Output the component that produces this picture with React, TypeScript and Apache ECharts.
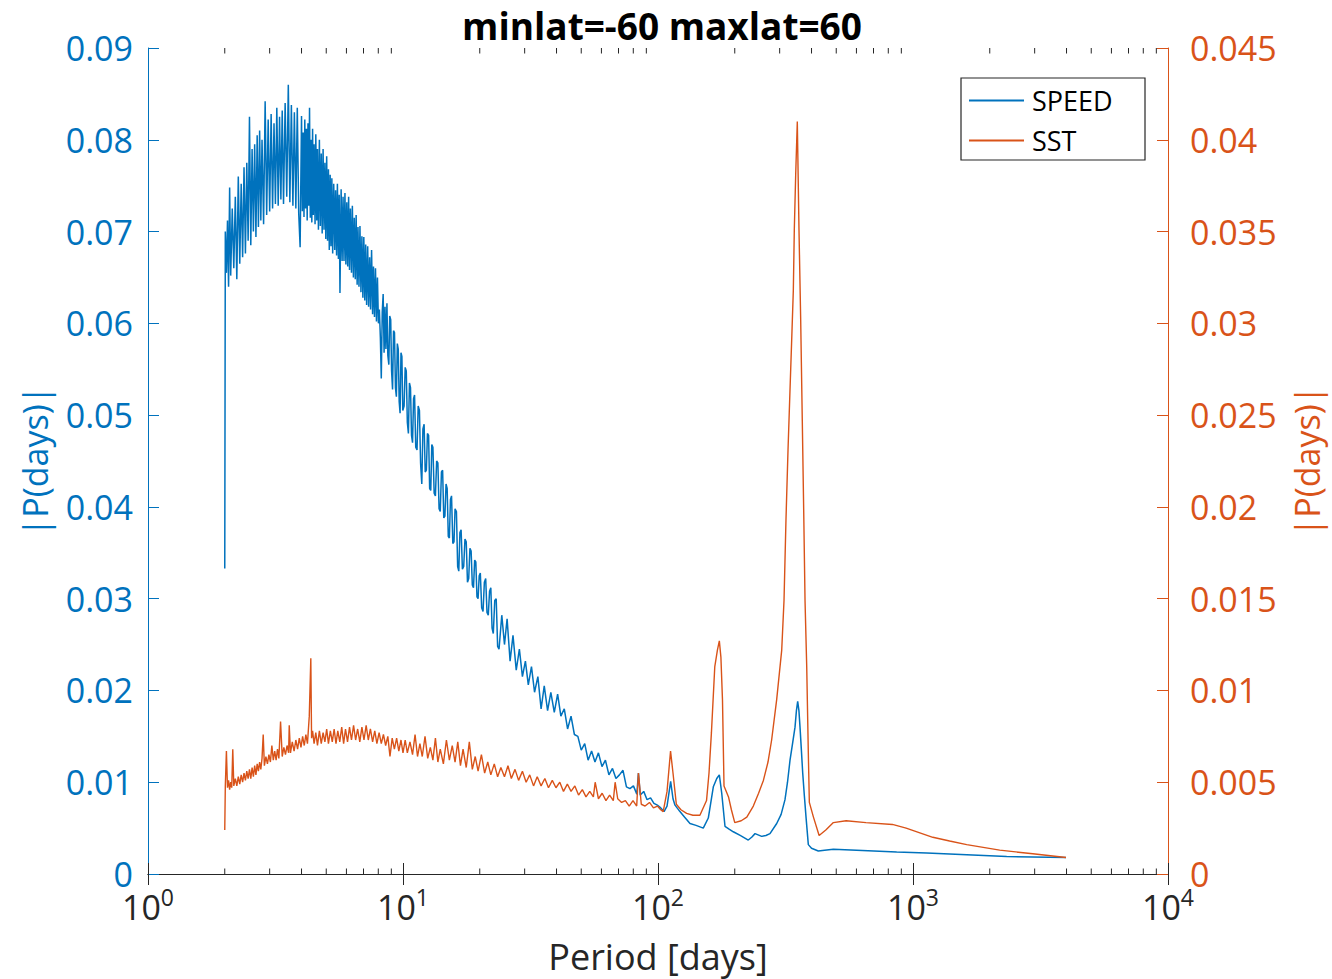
import React, { useEffect, useRef } from "react";
import * as echarts from "echarts";

const TITLE = "minlat=-60 maxlat=60";
const X_NAME = "Period [days]";
const Y_NAME = "|P(days)|";
const SERIES_NAMES = ["SPEED", "SST"];
const X_MIN = 1;
const X_MAX = 10000;
const LEFT_MAX = 0.09;
const LEFT_STEP = 0.01;
const RIGHT_MAX = 0.045;
const RIGHT_STEP = 0.005;
const MINOR_TICKS = [2, 3, 4, 5, 6, 7, 8, 9, 20, 30, 40, 50, 60, 70, 80, 90, 200, 300, 400, 500, 600, 700, 800, 900, 2000, 3000, 4000, 5000, 6000, 7000, 8000, 9000];

// [period (days), |P|]
const SPEED: [number, number][] = [
  [2.0, 0.0333], [2.01, 0.07], [2.03, 0.0655], [2.05, 0.0712], [2.07, 0.064], [2.09, 0.0748], [2.11, 0.0652], [2.14, 0.0725],
  [2.17, 0.066], [2.2, 0.0738], [2.23, 0.0648], [2.26, 0.076], [2.29, 0.0665], [2.32, 0.0752], [2.35, 0.0672], [2.38, 0.077],
  [2.41, 0.0676], [2.44, 0.0775], [2.47, 0.069], [2.5, 0.0825], [2.53, 0.0685], [2.56, 0.079], [2.59, 0.07], [2.62, 0.0795],
  [2.65, 0.0694], [2.68, 0.0805], [2.71, 0.0705], [2.74, 0.081], [2.77, 0.0712], [2.8, 0.08], [2.84, 0.0708], [2.88, 0.0842],
  [2.92, 0.0718], [2.96, 0.0822], [3.0, 0.0722], [3.04, 0.0828], [3.08, 0.0725], [3.12, 0.0818], [3.16, 0.073], [3.2, 0.0835],
  [3.24, 0.0728], [3.28, 0.0825], [3.32, 0.0735], [3.36, 0.0832], [3.4, 0.073], [3.45, 0.084], [3.5, 0.0738], [3.55, 0.086],
  [3.6, 0.0732], [3.65, 0.0838], [3.7, 0.0728], [3.75, 0.083], [3.8, 0.0725], [3.85, 0.0835], [3.9, 0.072], [3.95, 0.0683],
  [4.0, 0.0826], [4.03, 0.0722], [4.06, 0.0808], [4.09, 0.0716], [4.12, 0.0822], [4.15, 0.0725], [4.18, 0.0812], [4.21, 0.0712],
  [4.24, 0.0818], [4.27, 0.0728], [4.3, 0.0835], [4.33, 0.0715], [4.36, 0.08], [4.39, 0.071], [4.42, 0.0812], [4.45, 0.0718],
  [4.48, 0.0795], [4.52, 0.0708], [4.55, 0.0806], [4.59, 0.0712], [4.62, 0.079], [4.66, 0.0702], [4.7, 0.08], [4.74, 0.0706],
  [4.78, 0.0785], [4.82, 0.0698], [4.86, 0.079], [4.9, 0.0702], [4.94, 0.0775], [4.98, 0.0692], [5.02, 0.0782], [5.06, 0.069],
  [5.1, 0.0768], [5.14, 0.068], [5.18, 0.0762], [5.22, 0.0684], [5.26, 0.0758], [5.3, 0.0676], [5.35, 0.0752], [5.4, 0.068],
  [5.44, 0.0745], [5.49, 0.0674], [5.53, 0.0752], [5.58, 0.067], [5.62, 0.074], [5.66, 0.0633], [5.72, 0.0746], [5.77, 0.0668],
  [5.82, 0.0738], [5.87, 0.0668], [5.92, 0.0742], [5.97, 0.0664], [6.02, 0.0732], [6.07, 0.0662], [6.12, 0.0738], [6.17, 0.0658],
  [6.22, 0.0725], [6.28, 0.0655], [6.33, 0.0728], [6.39, 0.065], [6.44, 0.0715], [6.5, 0.0648], [6.55, 0.0718], [6.61, 0.0642],
  [6.66, 0.0705], [6.72, 0.064], [6.78, 0.0706], [6.84, 0.0634], [6.9, 0.0695], [6.96, 0.0628], [7.02, 0.0694], [7.08, 0.0625],
  [7.14, 0.0686], [7.2, 0.062], [7.27, 0.0684], [7.33, 0.0618], [7.4, 0.0672], [7.46, 0.0615], [7.53, 0.068], [7.6, 0.061],
  [7.66, 0.0662], [7.73, 0.0607], [7.8, 0.066], [7.87, 0.0602], [7.94, 0.065], [8.01, 0.06], [8.08, 0.0615], [8.15, 0.0585],
  [8.22, 0.054], [8.29, 0.0612], [8.36, 0.0632], [8.43, 0.0568], [8.5, 0.0618], [8.57, 0.0572], [8.65, 0.0622], [8.72, 0.0565],
  [8.8, 0.0555], [8.87, 0.0608], [8.95, 0.0604], [9.02, 0.0548], [9.1, 0.0528], [9.18, 0.0592], [9.26, 0.059], [9.34, 0.053],
  [9.42, 0.052], [9.5, 0.0578], [9.58, 0.0572], [9.66, 0.0515], [9.74, 0.0502], [9.82, 0.0568], [9.9, 0.0564], [9.98, 0.0505],
  [10.1, 0.051], [10.2, 0.0552], [10.3, 0.0548], [10.4, 0.0492], [10.5, 0.048], [10.6, 0.0535], [10.7, 0.053], [10.8, 0.0478],
  [10.9, 0.047], [11.0, 0.0518], [11.1, 0.0522], [11.22, 0.0465], [11.35, 0.0462], [11.47, 0.051], [11.6, 0.0505], [11.72, 0.0448],
  [11.85, 0.0425], [11.97, 0.0485], [12.1, 0.049], [12.22, 0.0438], [12.35, 0.044], [12.47, 0.048], [12.6, 0.0478], [12.72, 0.042],
  [12.85, 0.0418], [12.97, 0.0468], [13.1, 0.0465], [13.25, 0.0415], [13.4, 0.0412], [13.55, 0.045], [13.7, 0.0448], [13.85, 0.0398],
  [14.0, 0.0395], [14.15, 0.0438], [14.3, 0.044], [14.45, 0.0388], [14.6, 0.039], [14.75, 0.0425], [14.9, 0.042], [15.05, 0.0368],
  [15.2, 0.0366], [15.35, 0.0408], [15.5, 0.0412], [15.68, 0.036], [15.85, 0.0362], [16.0, 0.0398], [16.2, 0.0395], [16.38, 0.0335],
  [16.55, 0.033], [16.72, 0.0372], [16.9, 0.0375], [17.1, 0.0332], [17.3, 0.0335], [17.5, 0.0365], [17.7, 0.0362], [17.9, 0.0318],
  [18.1, 0.0322], [18.3, 0.0355], [18.5, 0.0352], [18.7, 0.0315], [18.9, 0.0312], [19.1, 0.0342], [19.3, 0.034], [19.5, 0.0302],
  [19.7, 0.03], [19.9, 0.0325], [20.1, 0.0328], [20.35, 0.029], [20.6, 0.0286], [20.85, 0.0318], [21.1, 0.0322], [21.35, 0.0285],
  [21.6, 0.0282], [21.85, 0.0308], [22.1, 0.0312], [22.35, 0.0268], [22.6, 0.0262], [22.9, 0.0298], [23.2, 0.03], [23.5, 0.0248],
  [23.8, 0.0245], [24.4, 0.0282], [25.0, 0.025], [25.6, 0.0278], [26.3, 0.0232], [27.0, 0.026], [27.8, 0.0222], [28.6, 0.0245],
  [29.4, 0.0215], [30.2, 0.0232], [31.0, 0.0206], [31.9, 0.0226], [32.8, 0.0198], [33.8, 0.0215], [34.8, 0.018], [35.8, 0.0205],
  [36.9, 0.0178], [38.0, 0.0198], [39.2, 0.0176], [40.4, 0.0196], [41.6, 0.0172], [42.9, 0.018], [44.2, 0.0158], [45.6, 0.0172],
  [47.0, 0.0152], [48.5, 0.015], [50.0, 0.0135], [51.6, 0.0142], [53.2, 0.0124], [54.9, 0.0134], [56.6, 0.0122], [58.4, 0.0132],
  [60.3, 0.0117], [62.2, 0.0124], [64.2, 0.0108], [66.3, 0.0115], [68.4, 0.0104], [70.6, 0.0108], [72.9, 0.0113], [75.2, 0.0095],
  [77.6, 0.0093], [80.1, 0.0096], [82.6, 0.0087], [83.8, 0.011], [85.2, 0.0086], [87.9, 0.009], [90.6, 0.0081], [93.5, 0.0083],
  [96.4, 0.0077], [99.4, 0.0075], [102.5, 0.0072], [105.6, 0.0068], [108.5, 0.0074], [112.1, 0.0101], [114.5, 0.0082], [116.6, 0.0075],
  [121.9, 0.0068], [127, 0.0062], [133.5, 0.0055], [141, 0.0053], [150.5, 0.005], [157.5, 0.0061], [164.8, 0.0095], [170, 0.0104],
  [174, 0.0108], [177.8, 0.0088], [183.1, 0.0052], [190, 0.0049], [197.4, 0.0046], [210, 0.0042], [226, 0.0037], [233, 0.004],
  [240.2, 0.0044], [255.1, 0.0041], [265, 0.0042], [274.9, 0.0044], [292.1, 0.0055], [304, 0.0065], [314.8, 0.0081], [322, 0.01],
  [329.4, 0.0124], [337, 0.0142], [344.6, 0.016], [349, 0.0178], [353, 0.0188], [357, 0.0178], [360.5, 0.016], [365, 0.0135],
  [369.4, 0.011], [375, 0.0085], [380.6, 0.0062], [388.6, 0.0032], [400, 0.0028], [425.2, 0.0025], [450, 0.0026], [487, 0.0027],
  [601, 0.0026], [863, 0.0024], [1132, 0.0023], [1624, 0.0021], [2330, 0.0019], [3980, 0.0018],
];

const SST: [number, number][] = [
  [2.0, 0.0024], [2.01, 0.0048], [2.03, 0.0067], [2.05, 0.0047], [2.07, 0.0051], [2.09, 0.0046], [2.11, 0.005], [2.13, 0.0047],
  [2.15, 0.0068], [2.17, 0.0048], [2.2, 0.0052], [2.23, 0.0048], [2.26, 0.0053], [2.29, 0.0049], [2.32, 0.0054], [2.35, 0.005],
  [2.38, 0.0055], [2.41, 0.0051], [2.44, 0.0056], [2.47, 0.0052], [2.5, 0.0057], [2.53, 0.0052], [2.56, 0.0058], [2.59, 0.0053],
  [2.62, 0.0059], [2.65, 0.0054], [2.68, 0.006], [2.71, 0.0056], [2.74, 0.0061], [2.77, 0.0057], [2.8, 0.0063], [2.83, 0.0076],
  [2.86, 0.0059], [2.9, 0.0064], [2.94, 0.006], [2.98, 0.0065], [3.02, 0.0061], [3.06, 0.007], [3.1, 0.0062], [3.14, 0.0067],
  [3.18, 0.0062], [3.22, 0.0068], [3.26, 0.0063], [3.31, 0.0083], [3.36, 0.0064], [3.41, 0.0069], [3.46, 0.0065], [3.51, 0.007],
  [3.56, 0.0066], [3.58, 0.0081], [3.62, 0.0066], [3.68, 0.0072], [3.74, 0.0067], [3.8, 0.0073], [3.86, 0.0068], [3.92, 0.0074],
  [3.98, 0.0069], [4.04, 0.0075], [4.1, 0.007], [4.16, 0.0076], [4.22, 0.0071], [4.29, 0.0086], [4.35, 0.01175], [4.38, 0.0074],
  [4.42, 0.0078], [4.48, 0.0071], [4.55, 0.0077], [4.62, 0.007], [4.7, 0.0078], [4.78, 0.0071], [4.86, 0.0077], [4.94, 0.0072],
  [5.02, 0.0079], [5.1, 0.0071], [5.19, 0.0078], [5.28, 0.0072], [5.37, 0.0079], [5.46, 0.0071], [5.55, 0.0078], [5.65, 0.0072],
  [5.75, 0.008], [5.85, 0.0071], [5.95, 0.0079], [6.06, 0.0072], [6.17, 0.008], [6.28, 0.0073], [6.4, 0.0081], [6.52, 0.0073],
  [6.64, 0.0079], [6.77, 0.0072], [6.9, 0.008], [7.03, 0.0073], [7.17, 0.0081], [7.31, 0.0073], [7.45, 0.0079], [7.6, 0.0072],
  [7.75, 0.0078], [7.9, 0.0071], [8.06, 0.0077], [8.22, 0.0071], [8.38, 0.0076], [8.55, 0.007], [8.72, 0.0075], [8.89, 0.0064],
  [9.07, 0.0074], [9.25, 0.0068], [9.44, 0.0074], [9.63, 0.0067], [9.82, 0.0073], [10.0, 0.0066], [10.2, 0.0073], [10.4, 0.0066],
  [10.65, 0.0072], [10.9, 0.0065], [11.15, 0.0076], [11.4, 0.0064], [11.65, 0.0071], [11.9, 0.0064], [12.2, 0.0075], [12.5, 0.0063],
  [12.8, 0.0069], [13.1, 0.0062], [13.4, 0.0074], [13.7, 0.0061], [14.0, 0.0068], [14.4, 0.006], [14.8, 0.0073], [15.2, 0.0062],
  [15.6, 0.007], [16.0, 0.0061], [16.4, 0.0072], [16.8, 0.0059], [17.2, 0.0068], [17.7, 0.0058], [18.2, 0.0072], [18.7, 0.0057],
  [19.2, 0.0064], [19.7, 0.0056], [20.3, 0.0065], [20.9, 0.0055], [21.5, 0.0061], [22.1, 0.0054], [22.8, 0.006], [23.5, 0.0053],
  [24.2, 0.0058], [25.0, 0.0053], [25.8, 0.0059], [26.6, 0.0052], [27.5, 0.0057], [28.4, 0.0051], [29.4, 0.0056], [30.4, 0.005],
  [31.4, 0.0054], [32.5, 0.0048], [33.6, 0.0053], [34.8, 0.0048], [36.0, 0.0052], [37.2, 0.0047], [38.5, 0.0051], [39.8, 0.0047],
  [41.2, 0.005], [42.6, 0.0045], [44.1, 0.0049], [45.6, 0.0045], [47.2, 0.0048], [48.8, 0.0043], [50.5, 0.0046], [52.2, 0.0042],
  [54.0, 0.0045], [55.8, 0.0042], [56.7, 0.005], [58.4, 0.0041], [60.4, 0.0044], [62.5, 0.004], [64.6, 0.0043], [66.8, 0.004],
  [67.9, 0.005], [69.5, 0.0041], [72.0, 0.0039], [74.5, 0.004], [77.1, 0.0037], [79.8, 0.004], [82.5, 0.0037], [83.8, 0.0055],
  [86.0, 0.0038], [89.0, 0.0037], [92.6, 0.0039], [96.0, 0.0036], [99.5, 0.0037], [102.5, 0.0035], [104.8, 0.0034], [108.5, 0.0045],
  [112, 0.0067], [114.5, 0.0055], [118, 0.0038], [123, 0.0035], [129.5, 0.0033], [137, 0.0032], [146, 0.0032], [155, 0.004],
  [158.5, 0.0055], [162, 0.0077], [167, 0.0113], [171, 0.0122], [174, 0.0127], [176.5, 0.0118], [179, 0.0095], [181.5, 0.0048],
  [189, 0.0042], [194, 0.0035], [200, 0.0028], [212, 0.0029], [223, 0.0031], [236.5, 0.0037], [248, 0.0044], [259, 0.0051],
  [270, 0.0061], [279, 0.0073], [292, 0.0095], [305.6, 0.0122], [312, 0.0149], [317.6, 0.0193], [323.5, 0.0231], [329.4, 0.0264],
  [334.4, 0.0291], [339.4, 0.0318], [342.4, 0.0351], [346.7, 0.0381], [351.8, 0.041], [357.2, 0.0351], [362.7, 0.0302], [368, 0.0247],
  [372.7, 0.0198], [377.2, 0.0149], [383, 0.0113], [388.6, 0.0066], [392.2, 0.0039], [407, 0.0031], [428.4, 0.0021], [455, 0.0024],
  [487.2, 0.0028], [546.6, 0.0029], [654, 0.0028], [830, 0.0027], [940, 0.0025], [1196, 0.002], [1392, 0.0018], [1624, 0.0016],
  [2188, 0.0013], [2950, 0.0011], [3980, 0.0009],
];

const BLUE = "#0072BD";
const ORANGE = "#D95319";
const AXIS = "#262626";
const FONT = "Open Sans";
const TICK_FONT = 34;
const NAME_FONT = 36;
const Y_NAME_FONT = 34;

const fmt = (v: number) => String(parseFloat(v.toFixed(4)));

export default function App() {
  const ref = useRef<HTMLDivElement>(null);
  useEffect(() => {
    if (!ref.current) return;
    const chart = echarts.init(ref.current, null, { renderer: "svg" });
    const xBase = {
      type: "log" as const,
      logBase: 10,
      min: X_MIN,
      max: X_MAX,
      splitLine: { show: false },
      axisLine: { show: true, lineStyle: { color: AXIS, width: 1 } },
      axisTick: { show: true, inside: true, length: 11, lineStyle: { color: AXIS, width: 1 } },
    };
    chart.setOption({
      animation: false,
      backgroundColor: "#ffffff",
      textStyle: { fontFamily: FONT },
      title: {
        text: TITLE,
        left: 662,
        textAlign: "center",
        top: 0,
        padding: 0,
        textStyle: { fontFamily: FONT, fontWeight: "bold", fontSize: 37, lineHeight: 50, color: "#000000" },
      },
      grid: {
        left: 148,
        right: 164,
        top: 48,
        bottom: 105,
        containLabel: false,
        outerBoundsMode: "none",
      },
      legend: {
        data: SERIES_NAMES,
        orient: "vertical",
        left: 968,
        top: 87,
        itemWidth: 55,
        itemHeight: 20,
        itemGap: 13,
        padding: 0,
        itemStyle: { opacity: 0, borderWidth: 0 },
        textStyle: { fontFamily: FONT, fontSize: 27, color: "#000000", padding: [0, 0, 0, 3] },
        z: 10,
      },
      graphic: [
        {
          type: "rect",
          shape: { x: 961, y: 78, width: 184, height: 82 },
          style: { fill: "#ffffff", stroke: AXIS, lineWidth: 1.2 },
          z: 5,
        },
      ],
      xAxis: [
        {
          ...xBase,
          position: "bottom",
          name: X_NAME,
          nameLocation: "middle",
          nameGap: 64,
          nameTextStyle: { fontFamily: FONT, fontSize: NAME_FONT, color: AXIS, lineHeight: 36 },
          axisLabel: {
            margin: 16,
            formatter: (v: number) => `{b|10}{s|${Math.round(Math.log10(v))}}`,
            rich: {
              b: { fontFamily: FONT, fontSize: TICK_FONT, color: AXIS, verticalAlign: "bottom", lineHeight: 34 },
              s: { fontFamily: FONT, fontSize: 23, color: AXIS, verticalAlign: "bottom", padding: [0, 0, 16, 0], lineHeight: 24 },
            },
          },
        },
        { ...xBase, position: "top", axisLabel: { show: false } },
      ],
      yAxis: [
        {
          type: "value",
          position: "left",
          min: 0,
          max: LEFT_MAX,
          interval: LEFT_STEP,
          splitLine: { show: false },
          axisLine: { show: true, lineStyle: { color: BLUE, width: 1 } },
          axisTick: { show: true, inside: true, length: 11, lineStyle: { color: BLUE } },
          axisLabel: { color: BLUE, fontFamily: FONT, fontSize: TICK_FONT, lineHeight: 26, margin: 15, formatter: fmt },
          name: Y_NAME,
          nameLocation: "middle",
          nameRotate: 90,
          nameGap: 97,
          nameTextStyle: { color: BLUE, fontFamily: FONT, fontSize: Y_NAME_FONT, lineHeight: 32 },
        },
        {
          type: "value",
          position: "right",
          min: 0,
          max: RIGHT_MAX,
          interval: RIGHT_STEP,
          splitLine: { show: false },
          axisLine: { show: true, lineStyle: { color: ORANGE, width: 1 } },
          axisTick: { show: true, inside: true, length: 11, lineStyle: { color: ORANGE } },
          axisLabel: { color: ORANGE, fontFamily: FONT, fontSize: TICK_FONT, lineHeight: 26, margin: 22, formatter: fmt },
          name: Y_NAME,
          nameLocation: "middle",
          nameRotate: 90,
          nameGap: 123,
          nameTextStyle: { color: ORANGE, fontFamily: FONT, fontSize: Y_NAME_FONT, lineHeight: 32 },
        },
      ],
      series: [
        {
          name: "minorTicks",
          type: "custom",
          xAxisIndex: 0,
          yAxisIndex: 0,
          silent: true,
          clip: false,
          data: MINOR_TICKS.map((t) => [t, 0]),
          renderItem: (_p: any, api: any) => {
            const v = api.value(0);
            const b = api.coord([v, 0]);
            const t = api.coord([v, LEFT_MAX]);
            return {
              type: "group",
              children: [
                { type: "line", shape: { x1: b[0], y1: b[1], x2: b[0], y2: b[1] - 5.5 }, style: { stroke: AXIS, lineWidth: 1 } },
                { type: "line", shape: { x1: t[0], y1: t[1], x2: t[0], y2: t[1] + 5.5 }, style: { stroke: AXIS, lineWidth: 1 } },
              ],
            };
          },
        },
        {
          name: SERIES_NAMES[0],
          type: "line",
          xAxisIndex: 0,
          yAxisIndex: 0,
          data: SPEED,
          symbol: "none",
          showSymbol: false,
          lineStyle: { color: BLUE, width: 1.5 },
          itemStyle: { color: BLUE },
        },
        {
          name: SERIES_NAMES[1],
          type: "line",
          xAxisIndex: 0,
          yAxisIndex: 1,
          data: SST,
          symbol: "none",
          showSymbol: false,
          lineStyle: { color: ORANGE, width: 1.4 },
          itemStyle: { color: ORANGE },
        },
      ],
    });
    return () => chart.dispose();
  }, []);
  return (
    <div
      ref={ref}
      style={{ position: "absolute", left: 0, top: 0, width: 1332, height: 979, background: "#fff" }}
    />
  );
}
